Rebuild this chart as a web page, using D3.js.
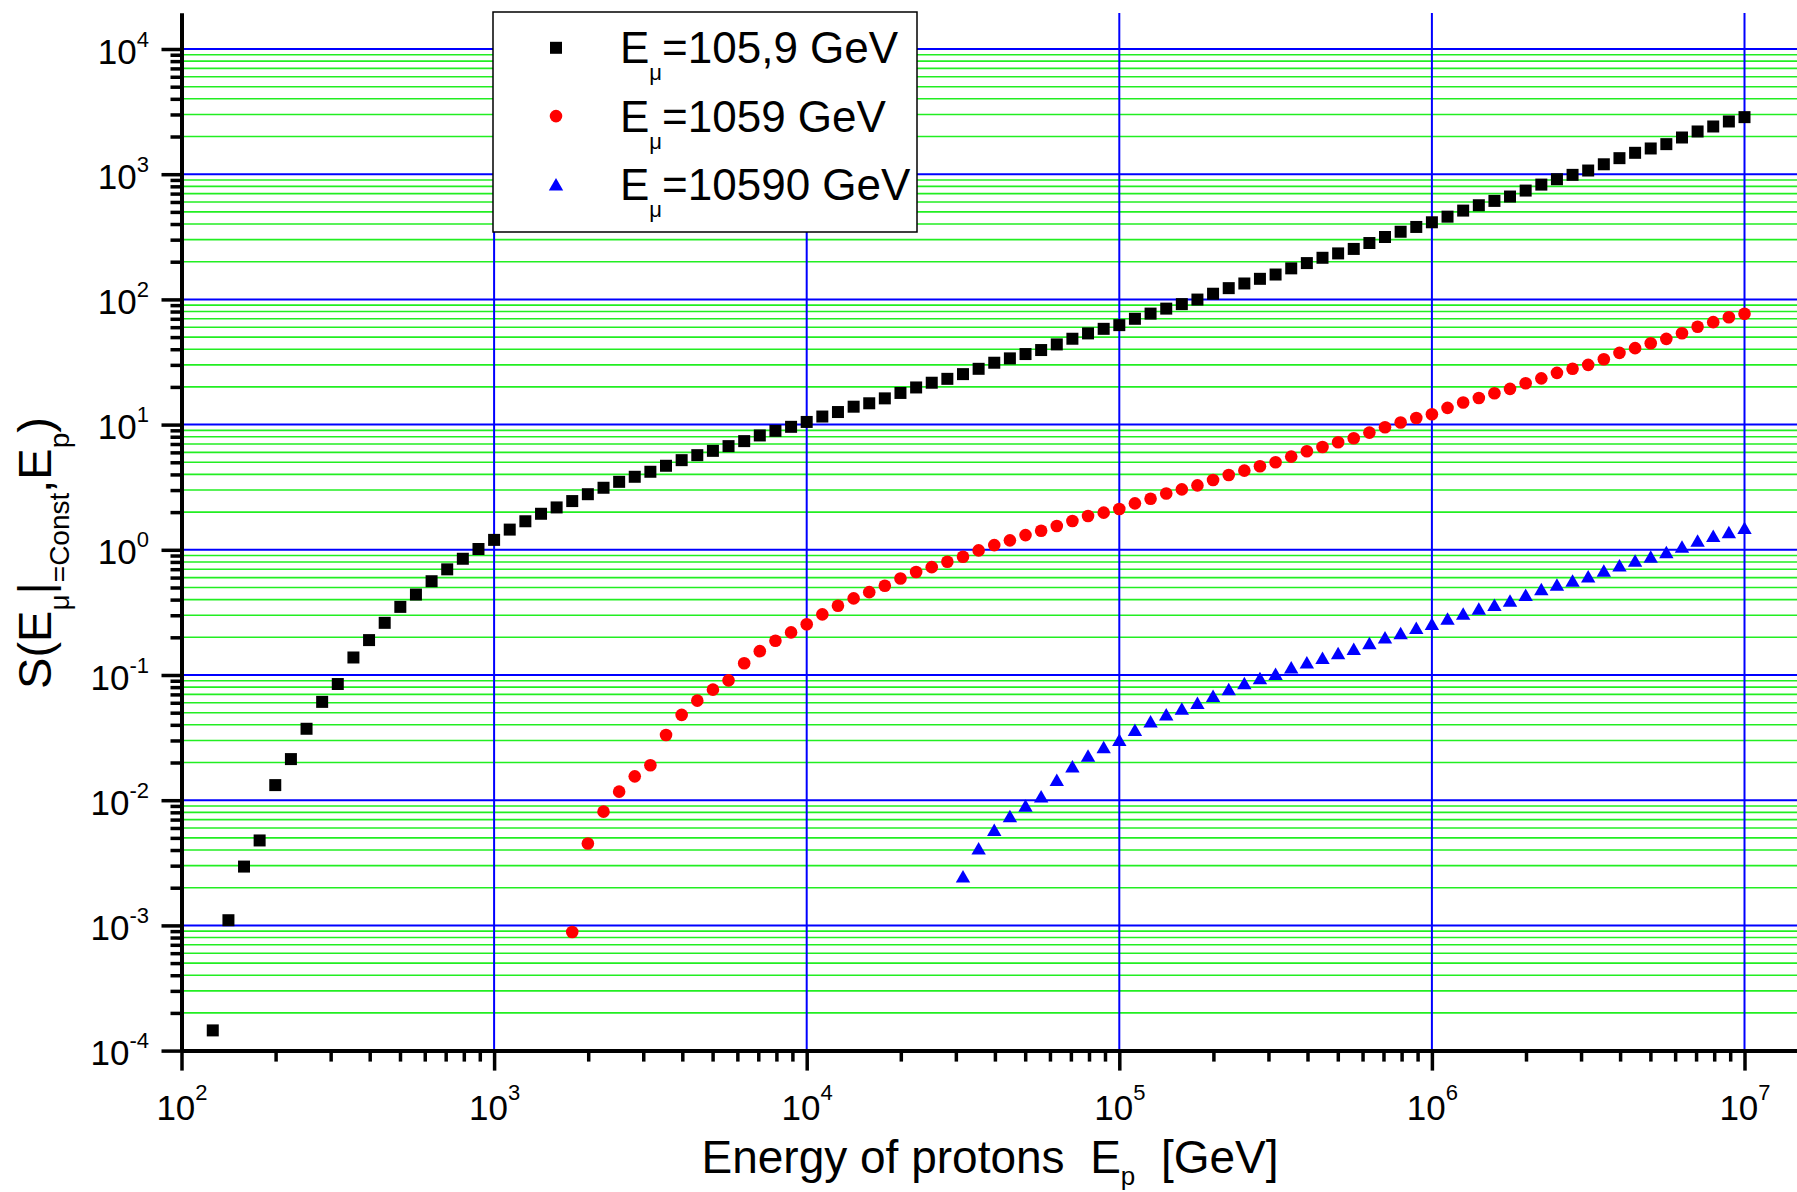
<!DOCTYPE html>
<html>
<head>
<meta charset="utf-8">
<script src="https://cdnjs.cloudflare.com/ajax/libs/d3/7.8.5/d3.min.js"></script>
<style>
  body { margin: 0; background: #fff; }
  text { font-family: "Liberation Sans", Arial, sans-serif; }
</style>
</head>
<body>
<div id="chart"></div>
<script>
// Proton energies E_p [GeV] (shared x grid of all three series)
const energyGeV = [
  1.259e2, 1.413e2, 1.585e2, 1.778e2, 1.995e2, 2.239e2, 2.512e2, 2.818e2, 3.162e2, 3.548e2,
  3.981e2, 4.467e2, 5.012e2, 5.623e2, 6.310e2, 7.079e2, 7.943e2, 8.913e2,
  1.000e3, 1.122e3, 1.259e3, 1.413e3, 1.585e3, 1.778e3, 1.995e3, 2.239e3, 2.512e3, 2.818e3,
  3.162e3, 3.548e3, 3.981e3, 4.467e3, 5.012e3, 5.623e3, 6.310e3, 7.079e3, 7.943e3, 8.913e3,
  1.000e4, 1.122e4, 1.259e4, 1.413e4, 1.585e4, 1.778e4, 1.995e4, 2.239e4, 2.512e4, 2.818e4,
  3.162e4, 3.548e4, 3.981e4, 4.467e4, 5.012e4, 5.623e4, 6.310e4, 7.079e4, 7.943e4, 8.913e4,
  1.000e5, 1.122e5, 1.259e5, 1.413e5, 1.585e5, 1.778e5, 1.995e5, 2.239e5, 2.512e5, 2.818e5,
  3.162e5, 3.548e5, 3.981e5, 4.467e5, 5.012e5, 5.623e5, 6.310e5, 7.079e5, 7.943e5, 8.913e5,
  1.000e6, 1.122e6, 1.259e6, 1.413e6, 1.585e6, 1.778e6, 1.995e6, 2.239e6, 2.512e6, 2.818e6,
  3.162e6, 3.548e6, 3.981e6, 4.467e6, 5.012e6, 5.623e6, 6.310e6, 7.079e6, 7.943e6, 8.913e6,
  1.000e7
];

// E_mu = 105,9 GeV (starts at energyGeV[0])
const sBlack = [
  1.45e-4, 1.10e-3, 2.95e-3, 4.77e-3, 1.32e-2, 2.13e-2, 3.72e-2, 6.10e-2, 8.47e-2, 0.138,
  0.190, 0.261, 0.350, 0.439, 0.561, 0.698, 0.848, 1.015,
  1.20, 1.45, 1.69, 1.94, 2.18, 2.45, 2.78, 3.13, 3.49, 3.83,
  4.20, 4.69, 5.20, 5.70, 6.17, 6.73, 7.38, 8.19, 8.92, 9.60,
  10.5, 11.6, 12.6, 13.9, 14.8, 16.2, 17.9, 19.8, 21.6, 23.2,
  25.3, 27.9, 31.2, 33.8, 36.6, 39.4, 43.7, 48.5, 53.5, 58.2,
  62.3, 70.0, 77.0, 84.4, 91.7, 99.7, 111, 123, 134, 146,
  158, 177, 195, 215, 233, 253, 282, 315, 347, 379,
  413, 458, 512, 565, 612, 663, 740, 826, 912, 988,
  1070, 1200, 1343, 1482, 1605, 1738, 1964, 2194, 2405, 2637,
  2856
];

// E_mu = 1059 GeV (starts at energyGeV[23])
const redStart = 23;
const sRed = [
  8.85e-4, 4.51e-3, 8.10e-3, 1.17e-2, 1.55e-2,
  1.90e-2, 3.32e-2, 4.80e-2, 6.24e-2, 7.64e-2, 9.06e-2, 0.124, 0.155, 0.188, 0.219,
  0.254, 0.305, 0.357, 0.409, 0.459, 0.516, 0.590, 0.664, 0.727, 0.802,
  0.879, 0.989, 1.09, 1.19, 1.31, 1.42, 1.55, 1.70, 1.86, 1.98,
  2.12, 2.35, 2.56, 2.82, 3.04, 3.27, 3.61, 3.96, 4.29, 4.65,
  5.00, 5.55, 6.12, 6.63, 7.22, 7.78, 8.63, 9.53, 10.4, 11.3,
  12.1, 13.6, 15.0, 16.3, 17.8, 19.3, 21.4, 23.4, 25.9, 27.9,
  30.0, 33.3, 37.4, 40.8, 44.7, 48.4, 53.7, 60.4, 65.8, 72.1,
  76.7
];

// E_mu = 10590 GeV (starts at energyGeV[48])
const blueStart = 48;
const sBlue = [
  2.46e-3, 4.12e-3, 5.79e-3, 7.43e-3, 9.02e-3, 1.07e-2, 1.45e-2, 1.86e-2, 2.26e-2, 2.65e-2,
  3.03e-2, 3.64e-2, 4.25e-2, 4.83e-2, 5.38e-2, 5.98e-2, 6.79e-2, 7.69e-2, 8.59e-2, 9.40e-2,
  0.102, 0.115, 0.126, 0.137, 0.149, 0.161, 0.179, 0.199, 0.216, 0.237,
  0.255, 0.281, 0.308, 0.338, 0.362, 0.392, 0.435, 0.483, 0.526, 0.566,
  0.612, 0.679, 0.750, 0.817, 0.879, 0.957, 1.06, 1.18, 1.29, 1.38,
  1.49
];

const seriesLabels = ["=105,9 GeV", "=1059 GeV", "=10590 GeV"];
const seriesColors = ["#000000", "#ff0000", "#0000ff"];
const seriesShapes = ["square", "circle", "triangle"];

const xTickExps = [2, 3, 4, 5, 6, 7];
const yTickExps = [-4, -3, -2, -1, 0, 1, 2, 3, 4];

// chart dimensions
const width = 1797;
const height = 1192;
const x0 = 181.5, xDecade = 312.6;
const y4 = 49, yDecade = 125.2, yTopEdge = 13;
const yBottom = y4 + 8 * yDecade;

const svg = d3.select("#chart")
  .append("svg")
  .attr("width", width)
  .attr("height", height)
  .style("background", "#fff");

const xScale = d3.scaleLog()
  .domain([1e2, Math.pow(10, 2 + (width - x0) / xDecade)])
  .range([x0, width]);

const yScale = d3.scaleLog()
  .domain([1e-4, Math.pow(10, 4 + (y4 - yTopEdge) / yDecade)])
  .range([yBottom, yTopEdge]);

function minorTicks(exps) {
  const out = [];
  exps.forEach(e => { for (let k = 2; k <= 9; k++) out.push(k * Math.pow(10, e)); });
  return out;
}
const xMajor = xTickExps.map(e => Math.pow(10, e));
const yMajor = yTickExps.map(e => Math.pow(10, e));
const xMinor = minorTicks(xTickExps.slice(0, -1));
const yMinor = minorTicks(yTickExps.slice(0, -1));

// grid
const grid = svg.append("g");
grid.selectAll(".gminor")
  .data(yMinor)
  .join("line")
  .attr("x1", x0).attr("x2", width)
  .attr("y1", d => yScale(d)).attr("y2", d => yScale(d))
  .attr("stroke", "#22ee22")
  .attr("stroke-width", 1.6);
grid.selectAll(".gy")
  .data(yMajor.slice(1))
  .join("line")
  .attr("x1", x0).attr("x2", width)
  .attr("y1", d => yScale(d)).attr("y2", d => yScale(d))
  .attr("stroke", "#0000ff")
  .attr("stroke-width", 2);
grid.selectAll(".gx")
  .data(xMajor.slice(1))
  .join("line")
  .attr("x1", d => xScale(d)).attr("x2", d => xScale(d))
  .attr("y1", yTopEdge).attr("y2", yBottom)
  .attr("stroke", "#0000ff")
  .attr("stroke-width", 2);

// axes
function styleAxis(g) {
  g.select(".domain").attr("stroke", "#000").attr("stroke-width", 4);
  g.selectAll(".tick line").attr("stroke", "#000").attr("stroke-width", 3.5);
  g.attr("font-family", "Liberation Sans, Arial, sans-serif").attr("font-size", 35);
}
function powerLabel(text, exp, raise) {
  text.text("");
  text.append("tspan").text("10");
  text.append("tspan").attr("font-size", 22).attr("dy", -raise).text(exp);
}

svg.append("g")
  .attr("transform", `translate(0,${yBottom})`)
  .call(d3.axisBottom(xScale).tickValues(xMinor).tickSize(11).tickSizeOuter(0).tickFormat(""))
  .call(styleAxis);

const xAxis = svg.append("g")
  .attr("transform", `translate(0,${yBottom})`)
  .call(d3.axisBottom(xScale).tickValues(xMajor).tickSize(20).tickSizeOuter(0).tickFormat(""))
  .call(styleAxis);
xAxis.selectAll(".tick text")
  .attr("fill", "#000")
  .attr("y", 69.5)
  .attr("dy", 0)
  .attr("text-anchor", "middle")
  .each(function(d, i) { powerLabel(d3.select(this), xTickExps[i], 20); });

svg.append("g")
  .attr("transform", `translate(${x0},0)`)
  .call(d3.axisLeft(yScale).tickValues(yMinor).tickSize(11).tickSizeOuter(0).tickFormat(""))
  .call(styleAxis);

const yAxis = svg.append("g")
  .attr("transform", `translate(${x0},0)`)
  .call(d3.axisLeft(yScale).tickValues(yMajor).tickSize(20).tickPadding(12.5).tickSizeOuter(0).tickFormat(""))
  .call(styleAxis);
yAxis.selectAll(".tick text")
  .attr("fill", "#000")
  .attr("dy", 14)
  .attr("text-anchor", "end")
  .each(function(d, i) { powerLabel(d3.select(this), yTickExps[i], 17); });

// markers
function markerPath(shape) {
  if (shape === "square") return "M-6,-6H6V6H-6Z";
  if (shape === "circle") return d3.symbol(d3.symbolCircle, Math.PI * 6.3 * 6.3)();
  return "M0,-6.5L7.2,6L-7.2,6Z";
}

const series = [
  { values: sBlack, energies: energyGeV },
  { values: sRed, energies: energyGeV.slice(redStart) },
  { values: sBlue, energies: energyGeV.slice(blueStart) }
];

series.forEach((s, i) => {
  svg.append("g")
    .selectAll("path")
    .data(s.values)
    .join("path")
    .attr("d", markerPath(seriesShapes[i]))
    .attr("transform", (d, j) => `translate(${xScale(s.energies[j])},${yScale(d)})`)
    .attr("fill", seriesColors[i]);
});

// legend
const legend = svg.append("g");
legend.append("rect")
  .attr("x", 493).attr("y", 12)
  .attr("width", 424).attr("height", 220)
  .attr("fill", "#fff")
  .attr("stroke", "#000")
  .attr("stroke-width", 1.5);

seriesLabels.forEach((label, i) => {
  const base = 63.3 + i * 68.3;
  legend.append("path")
    .attr("d", markerPath(seriesShapes[i]))
    .attr("transform", `translate(556,${base - 15.5})`)
    .attr("fill", seriesColors[i]);
  const t = legend.append("text")
    .attr("x", 620).attr("y", base)
    .attr("font-size", 44)
    .attr("fill", "#000");
  t.append("tspan").text("E");
  t.append("tspan").attr("font-size", 22).attr("dy", 17).text("μ");
  t.append("tspan").attr("dy", -17).text(label);
});

// axis titles
const xTitle = svg.append("text")
  .attr("x", 990).attr("y", 1173)
  .attr("text-anchor", "middle")
  .attr("font-size", 46)
  .style("white-space", "pre");
xTitle.append("tspan").text("Energy of protons  E");
xTitle.append("tspan").attr("font-size", 26).attr("dy", 12).text("p");
xTitle.append("tspan").attr("dy", -12).text("  [GeV]");

const yTitle = svg.append("text")
  .attr("transform", "translate(51,553) rotate(-90)")
  .attr("text-anchor", "middle")
  .attr("font-size", 47);
yTitle.append("tspan").text("S(E");
yTitle.append("tspan").attr("font-size", 28).attr("dy", 18).text("μ");
yTitle.append("tspan").attr("dy", -18).text("|");
yTitle.append("tspan").attr("font-size", 28).attr("dy", 18).text("=Const");
yTitle.append("tspan").attr("dy", -18).text(",E");
yTitle.append("tspan").attr("font-size", 28).attr("dy", 18).text("p");
yTitle.append("tspan").attr("dy", -18).text(")");
</script>
</body>
</html>
